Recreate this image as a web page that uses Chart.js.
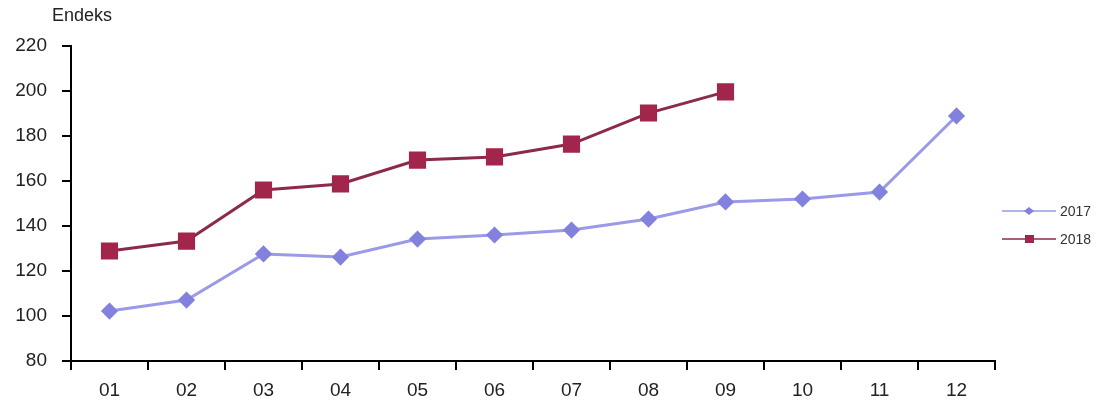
<!DOCTYPE html>
<html>
<head>
<meta charset="utf-8">
<script src="https://cdn.jsdelivr.net/npm/chart.js@4.4.1/dist/chart.umd.min.js"></script>
<style>
    html, body { margin: 0; padding: 0; background: #fff; }
    #wrap { width: 1107px; height: 405px; position: relative; }
</style>
</head>
<body>
<div id="wrap"><canvas id="endeksChart" width="1107" height="405"></canvas></div>
<script>
// Data
const months = ['01', '02', '03', '04', '05', '06', '07', '08', '09', '10', '11', '12'];
const values2017 = [102.2, 107.1, 127.6, 126.2, 134.2, 136.0, 138.2, 143.1, 150.7, 152.0, 155.1, 188.9];
const values2018 = [128.9, 133.3, 156.0, 158.7, 169.3, 170.7, 176.4, 190.2, 199.6];
const yTicks = [80, 100, 120, 140, 160, 180, 200, 220];

const FONT = "'Liberation Sans', Arial, sans-serif";

// Legend on the right and the axis title, drawn on the canvas
const sideLegend = {
    id: 'sideLegend',
    afterDraw(chart) {
        const ctx = chart.ctx;
        ctx.save();
        ctx.fillStyle = '#222';
        ctx.font = '18px ' + FONT;
        ctx.textBaseline = 'middle';
        ctx.textAlign = 'left';
        ctx.fillText('Endeks', 52, 16);

        chart.data.datasets.forEach(function (ds, i) {
            const y = 211 + i * 28;
            ctx.strokeStyle = ds.borderColor;
            ctx.lineWidth = 1.5;
            ctx.beginPath();
            ctx.moveTo(1002, y);
            ctx.lineTo(1056, y);
            ctx.stroke();
            ctx.fillStyle = ds.pointBackgroundColor;
            if (ds.pointStyle === 'rectRot') {
                ctx.beginPath();
                ctx.moveTo(1029, y - 4);
                ctx.lineTo(1034, y);
                ctx.lineTo(1029, y + 4);
                ctx.lineTo(1024, y);
                ctx.closePath();
                ctx.fill();
            } else {
                ctx.fillRect(1025, y - 4, 9, 8);
            }
            ctx.fillStyle = '#333';
            ctx.font = '14px ' + FONT;
            ctx.fillText(ds.label, 1060, y + 1);
        });
        ctx.restore();
    }
};

const ctx = document.getElementById('endeksChart').getContext('2d');
new Chart(ctx, {
    type: 'line',
    data: {
        labels: months,
        datasets: [{
            label: '2017',
            data: values2017,
            borderColor: '#9a9ae8',
            borderWidth: 3,
            pointStyle: 'rectRot',
            pointRadius: 6.5,
            pointBackgroundColor: '#8282de',
            pointBorderColor: '#8282de',
            tension: 0
        }, {
            label: '2018',
            data: values2018,
            borderColor: '#8c2a4c',
            borderWidth: 3,
            pointStyle: 'rect',
            pointRadius: 10,
            pointBackgroundColor: '#a2264c',
            pointBorderColor: '#a2264c',
            tension: 0
        }]
    },
    options: {
        responsive: false,
        animation: false,
        layout: {
            padding: { top: 46, right: 112, bottom: 0, left: 0 }
        },
        plugins: {
            legend: { display: false },
            tooltip: { enabled: false }
        },
        scales: {
            x: {
                offset: true,
                grid: {
                    offset: true,
                    drawOnChartArea: false,
                    drawTicks: true,
                    tickLength: 9,
                    color: '#000',
                    lineWidth: 2
                },
                border: { display: true, color: '#000', width: 2 },
                ticks: {
                    color: '#222',
                    padding: 9,
                    font: { family: FONT, size: 19 },
                    maxRotation: 0
                },
                afterFit(scale) { scale.height = 44; }
            },
            y: {
                min: 80,
                max: 220,
                afterBuildTicks(scale) {
                    scale.ticks = yTicks.map(function (v) { return { value: v }; });
                },
                grid: {
                    drawOnChartArea: false,
                    drawTicks: true,
                    tickLength: 9,
                    color: '#000',
                    lineWidth: 2
                },
                border: { display: true, color: '#000', width: 2 },
                ticks: {
                    color: '#222',
                    padding: 15,
                    font: { family: FONT, size: 19 }
                },
                afterFit(scale) { scale.width = 71; }
            }
        }
    },
    plugins: [sideLegend]
});
</script>
</body>
</html>
